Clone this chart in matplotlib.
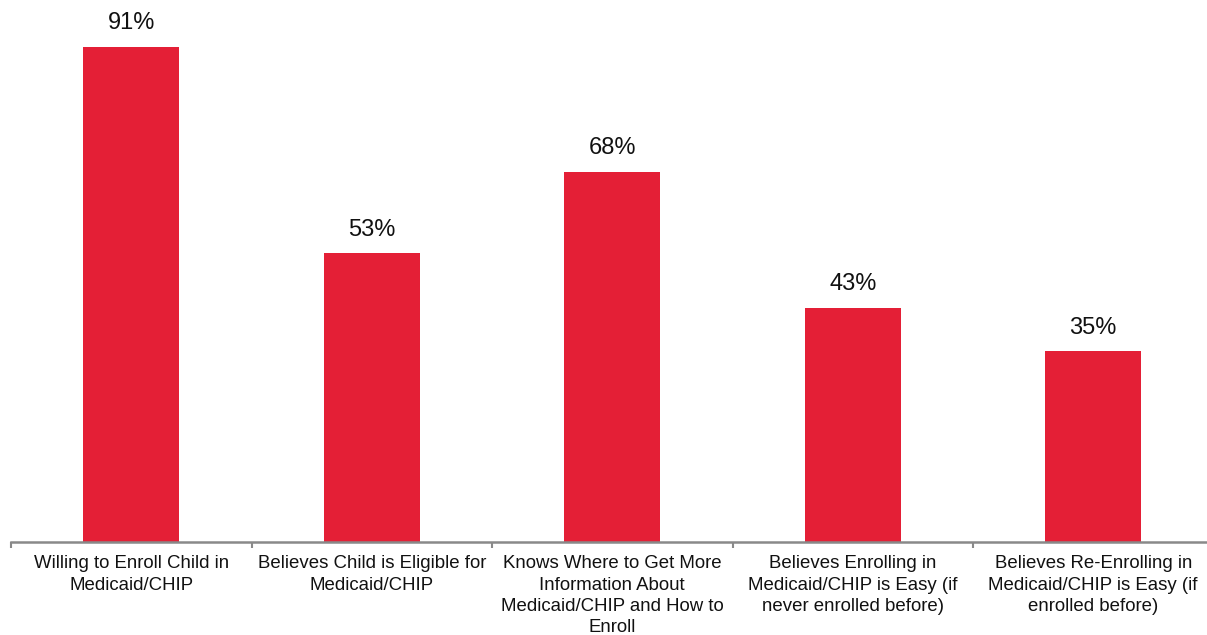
import numpy as np
import matplotlib.pyplot as plt

plt.rcParams['font.family'] = ['Liberation Sans', 'DejaVu Sans']

# data
categories = [
    "Willing to Enroll Child in\nMedicaid/CHIP",
    "Believes Child is Eligible for\nMedicaid/CHIP",
    "Knows Where to Get More\nInformation About\nMedicaid/CHIP and How to\nEnroll",
    "Believes Enrolling in\nMedicaid/CHIP is Easy (if\nnever enrolled before)",
    "Believes Re-Enrolling in\nMedicaid/CHIP is Easy (if\nenrolled before)",
]
values = [91, 53, 68, 43, 35]

W, H = 1207, 635
fig = plt.figure(figsize=(W / 100, H / 100), dpi=100)
# axes spans slightly past the right edge, like the original
ax = fig.add_axes([11 / W, (H - 541.5) / H, 1202.5 / W, 543.6 / H])

x = np.arange(len(values))
ax.bar(x, values, width=0.4, color='#E41F36')
ax.set_xlim(-0.5, len(values) - 0.5)
ax.set_ylim(0, 100)

for xi, v in zip(x, values):
    ax.annotate(f"{v}%", (xi, v), xytext=(0, 17), textcoords='offset points',
                ha='center', va='center', fontsize=17, color='#111111')

# category labels at centres, ticks at the boundaries
ax.set_xticks(x)
ax.set_xticklabels(categories, fontsize=13.4, color='#111111', linespacing=1.33)
ax.tick_params(axis='x', which='major', length=0, pad=10)
ax.set_xticks(np.arange(-0.5, len(values)), minor=True)
ax.tick_params(axis='x', which='minor', length=4.5, width=1.5, color='#898989')

ax.set_yticks([])
for s in ['top', 'right', 'left']:
    ax.spines[s].set_visible(False)
ax.spines['bottom'].set_color('#898989')
ax.spines['bottom'].set_linewidth(1.8)

fig.savefig('out.png', dpi=100)
